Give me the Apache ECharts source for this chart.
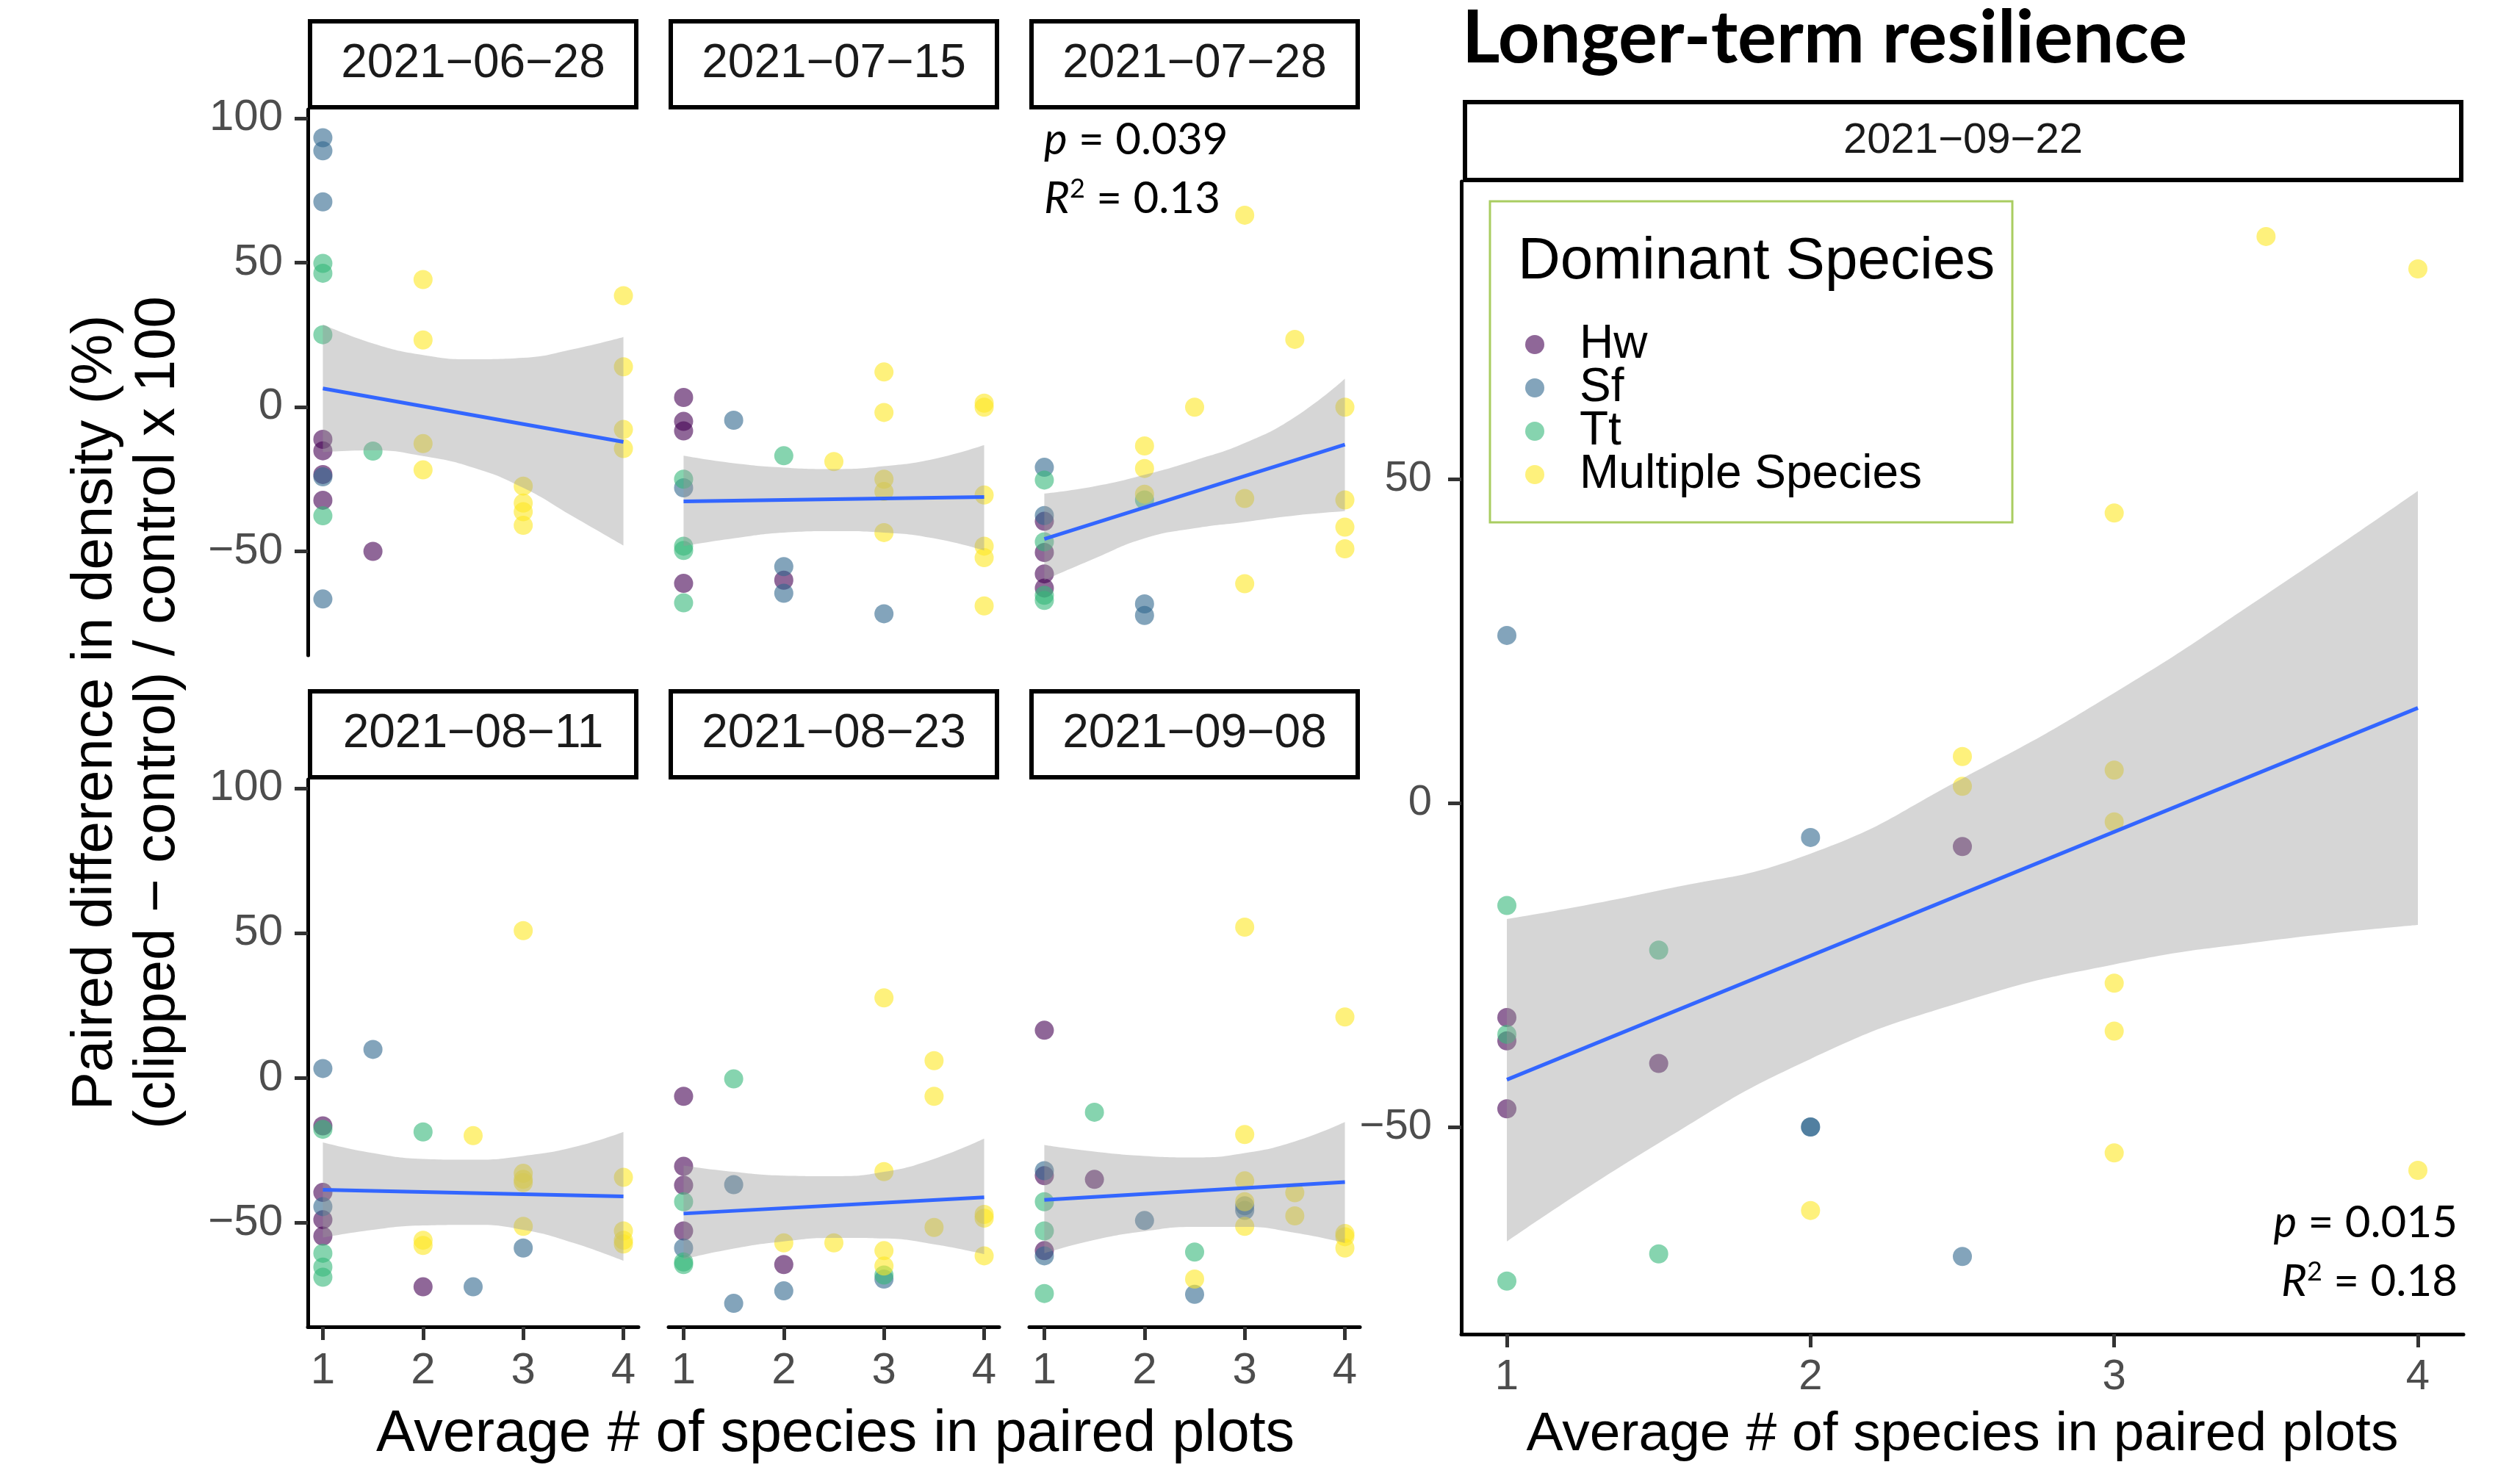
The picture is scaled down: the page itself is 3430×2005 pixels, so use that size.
<!DOCTYPE html>
<html><head><meta charset="utf-8">
<script src="https://cdn.jsdelivr.net/npm/echarts@6/dist/echarts.min.js"></script>
<style>html,body{margin:0;padding:0;background:#fff}#c{width:3430px;height:2005px}</style>
</head><body><div id="c"></div>
<script>
// ---------------- DATA ----------------
const speciesNames = ['Hw', 'Sf', 'Tt', 'Multiple Species'];
const speciesColors = ['#440154', '#31688E', '#35B779', '#FDE725'];
const panelDates = ['2021\u221206\u221228', '2021\u221207\u221215', '2021\u221207\u221228',
                    '2021\u221208\u221211', '2021\u221208\u221223', '2021\u221209\u221208'];
const rightDate = '2021\u221209\u221222';
const xTicks = [1, 2, 3, 4];
const yTicksLeft = [-50, 0, 50, 100];
const yTicksRight = [-50, 0, 50];
const bandX = [1, 1.5, 2, 2.5, 3, 3.5, 4];

// 2021-06-28
const p0628_Hw = [[1,-11.2],[1,-15.2],[1,-23.4],[1,-32.3],[1.5,-50]];
const p0628_Sf = [[1,93.2],[1,88.7],[1,71],[1,-24.2],[1,-66.5]];
const p0628_Tt = [[1,49.7],[1,46.3],[1,25],[1,-37.7],[1.5,-15.3]];
const p0628_Mu = [[2,44.1],[2,23.2],[2,-12.7],[2,-21.8],[3,-27.4],[3,-33.3],[3,-36.3],[3,-41],[4,38.5],[4,13.9],[4,-7.8],[4,-14.4]];
const fit0628 = [[1,6.4],[4,-12.1]];
const lo0628 = [-15.6,-15,-17,-21,-28,-38,-48];
const hi0628 = [28.6,22,18,16.5,17,20,24.2];

// 2021-07-15
const p0715_Hw = [[1,3.3],[1,-5.0],[1,-8.3],[1,-61.1],[2,-60]];
const p0715_Sf = [[1,-28],[1.5,-4.6],[2,-55.3],[2,-64.5],[3,-71.6]];
const p0715_Tt = [[1,-25],[1,-48.2],[1,-49.7],[1,-67.8],[2,-16.9]];
const p0715_Mu = [[2.5,-18.9],[3,12.1],[3,-1.9],[3,-25],[3,-29.3],[3,-43.5],[4,1.3],[4,-0.1],[4,-30.5],[4,-48.2],[4,-52.2],[4,-68.9]];
const fit0715 = [[1,-32.7],[4,-31.2]];
const lo0715 = [-48.2,-45.5,-43.5,-43,-43.5,-45.5,-49.7];
const hi0715 = [-16.9,-19.5,-21,-21.5,-20.5,-18,-13.2];

// 2021-07-28
const p0728_Hw = [[1,-39.6],[1,-50.4],[1,-57.8],[1,-62.7]];
const p0728_Sf = [[1,-20.9],[1,-37.6],[2,-68.2],[2,-72.2]];
const p0728_Tt = [[1,-25.3],[1,-46.7],[1,-65.2],[1,-67],[2,-32.2]];
const p0728_Mu = [[2,-13.5],[2,-21.3],[2,-30.2],[2.5,-0.1],[3,66.4],[3,-31.7],[3,-61.2],[3.5,23.4],[4,-0.1],[4,-32.2],[4,-41.6],[4,-49.1]];
const fit0728 = [[1,-45.7],[4,-13.0]];
const lo0728 = [-60,-52.5,-45.5,-42,-39.8,-37.6,-36.1];
const hi0728 = [-30,-27.5,-23.5,-18.5,-12.5,-3.5,9.8];

// 2021-08-11
const p0811_Hw = [[1,-16.6],[1,-39.6],[1,-49],[1,-54.7],[2,-72.2]];
const p0811_Sf = [[1,3.2],[1,-44.5],[1.5,9.8],[2.5,-72.2],[3,-58.8]];
const p0811_Tt = [[1,-17.8],[1,-60.6],[1,-65.4],[1,-68.9],[2,-18.7]];
const p0811_Mu = [[2,-56.1],[2,-57.9],[2.5,-20],[3,50.8],[3,-33],[3,-35.1],[3,-36.2],[3,-51.3],[4,-34.4],[4,-52.9],[4,-56.1],[4,-57.4]];
const fit0811 = [[1,-38.7],[4,-41]];
const lo0811 = [-55.2,-52.5,-51,-50.8,-52.5,-57,-63.2];
const hi0811 = [-22.3,-26,-28,-28.3,-27,-24,-18.7];

// 2021-08-23
const p0823_Hw = [[1,-6.4],[1,-30.6],[1,-37.1],[1,-52.9],[2,-64.5]];
const p0823_Sf = [[1,-58.8],[1.5,-36.9],[1.5,-77.9],[2,-73.6],[3,-69.5]];
const p0823_Tt = [[1,-42.8],[1,-63.6],[1,-64.5],[1.5,-0.4],[3,-68.1]];
const p0823_Mu = [[2,-57],[2.5,-57],[3,27.6],[3,-32.4],[3,-59.7],[3,-65],[3.5,5.9],[3.5,-6.4],[3.5,-51.7],[4,-47.2],[4,-48.5],[4,-61.5]];
const fit0823 = [[1,-46.9],[4,-41.3]];
const lo0823 = [-62.7,-59,-56.5,-55.3,-55.5,-57.5,-60.9];
const hi0823 = [-30.3,-32.5,-33.8,-34,-32.5,-28,-21];

// 2021-09-08
const p0908_Hw = [[1,16.4],[1,-33.8],[1,-59.7],[1.5,-35.1]];
const p0908_Sf = [[1,-32.1],[1,-61.5],[2,-49.3],[2.5,-74.8],[3,-44.2],[3,-45.8]];
const p0908_Tt = [[1,-42.8],[1,-52.9],[1,-74.5],[1.5,-11.9],[2.5,-60.2]];
const p0908_Mu = [[2.5,-69.5],[3,52],[3,-19.6],[3,-35.6],[3,-42.8],[3,-51.3],[3.5,-39.7],[3.5,-47.7],[4,21],[4,-53.8],[4,-54.9],[4,-58.8]];
const fit0908 = [[1,-42.2],[4,-36]];
const lo0908 = [-60.6,-56,-53,-51.5,-51.5,-53.5,-57];
const hi0908 = [-23.2,-25.5,-27,-27.5,-26,-22,-15.3];

// 2021-09-22 (longer-term)
const p0922_Hw = [[1,-33.1],[1,-36.7],[1,-47.2],[1.5,-40.2],[2.5,-6.7]];
const p0922_Sf = [[1,25.9],[2,-5.3],[2,-50],[2,-50],[2.5,-70]];
const p0922_Tt = [[1,-15.8],[1,-35.7],[1,-73.8],[1.5,-22.7],[1.5,-69.6]];
const p0922_Mu = [[2,-62.9],[2.5,7.2],[2.5,2.6],[3,44.8],[3,5.1],[3,-2.9],[3,-27.8],[3,-35.2],[3,-54],[3.5,87.5],[4,82.5],[4,-56.7]];
const fit0922 = [[1,-42.7],[4,14.7]];
const lo0922 = [-67.7,-52.5,-39.5,-30.7,-24.9,-21.3,-18.8];
const hi0922 = [-17.9,-13.5,-7.8,3.8,17,32.2,48.2];

const statsLeft = ['0.039', '0.13'];
const statsRight = ['0.015', '0.18'];

// ---------------- BUILD ----------------
const panels = [
  {pts:[p0628_Hw,p0628_Sf,p0628_Tt,p0628_Mu], fit:fit0628, lo:lo0628, hi:hi0628},
  {pts:[p0715_Hw,p0715_Sf,p0715_Tt,p0715_Mu], fit:fit0715, lo:lo0715, hi:hi0715},
  {pts:[p0728_Hw,p0728_Sf,p0728_Tt,p0728_Mu], fit:fit0728, lo:lo0728, hi:hi0728},
  {pts:[p0811_Hw,p0811_Sf,p0811_Tt,p0811_Mu], fit:fit0811, lo:lo0811, hi:hi0811},
  {pts:[p0823_Hw,p0823_Sf,p0823_Tt,p0823_Mu], fit:fit0823, lo:lo0823, hi:hi0823},
  {pts:[p0908_Hw,p0908_Sf,p0908_Tt,p0908_Mu], fit:fit0908, lo:lo0908, hi:hi0908},
  {pts:[p0922_Hw,p0922_Sf,p0922_Tt,p0922_Mu], fit:fit0922, lo:lo0922, hi:hi0922}
];

const colLeft = [419, 910, 1401];
const panelW = 450;
const rowTop = [149, 1061];
const rowH = [743, 745];
const RG = {left:1989, top:247, width:1364, height:1569};
const SANS = 'Liberation Sans';
const fmtMinus = v => v < 0 ? '\u2212' + Math.abs(v) : String(v);

const grids = [], xAxes = [], yAxes = [], series = [], graphics = [];

function axisCommon(show, ticks, fs, margin) {
  return {
    axisLine: {show: show, onZero: false, lineStyle: {color: '#000', width: 5}},
    axisTick: {show: show, length: 18, customValues: ticks, lineStyle: {color: '#333', width: 5}},
    axisLabel: {show: show, customValues: ticks, color: '#4d4d4d', fontSize: fs, fontFamily: SANS, margin: margin, formatter: fmtMinus},
    splitLine: {show: false}
  };
}

panels.forEach((p, i) => {
  let g, showX, showY, ymin, ymax, yt, fs;
  if (i < 6) {
    const row = i < 3 ? 0 : 1, col = i % 3;
    g = {left: colLeft[col], top: rowTop[row], width: panelW, height: rowH[row]};
    showX = row === 1; showY = col === 0; ymin = -86; ymax = 103; yt = yTicksLeft; fs = 60;
  } else {
    g = {left: RG.left, top: RG.top, width: RG.width, height: RG.height};
    showX = true; showY = true; ymin = -82; ymax = 96; yt = yTicksRight; fs = 58;
  }
  grids.push(Object.assign({outerBoundsMode: 'none', containLabel: false}, g));
  xAxes.push(Object.assign({type: 'value', gridIndex: i, min: 0.85, max: 4.15}, axisCommon(showX, xTicks, fs, 30)));
  yAxes.push(Object.assign({type: 'value', gridIndex: i, min: ymin, max: ymax}, axisCommon(showY, yt, fs, i < 6 ? 34 : 40)));

  p.pts.forEach((arr, s) => {
    series.push({
      name: speciesNames[s], type: 'scatter', xAxisIndex: i, yAxisIndex: i,
      data: arr, symbolSize: 26, z: 2,
      itemStyle: {color: speciesColors[s], opacity: 0.6}
    });
  });
  // confidence band: lower bound + (upper - lower) stacked on the y dimension
  // (y is put in column 0 so that it is the stacked dimension)
  series.push({
    type: 'line', xAxisIndex: i, yAxisIndex: i, stack: 'band' + i, stackStrategy: 'all',
    data: bandX.map((x, k) => [p.lo[k], x]), encode: {x: 1, y: 0}, smooth: true, symbol: 'none',
    lineStyle: {opacity: 0}, silent: true, z: 3
  });
  series.push({
    type: 'line', xAxisIndex: i, yAxisIndex: i, stack: 'band' + i, stackStrategy: 'all',
    data: bandX.map((x, k) => [p.hi[k] - p.lo[k], x]), encode: {x: 1, y: 0}, smooth: true, symbol: 'none',
    lineStyle: {opacity: 0}, areaStyle: {color: 'rgba(153,153,153,0.4)', opacity: 1}, silent: true, z: 3
  });
  series.push({
    type: 'line', xAxisIndex: i, yAxisIndex: i, data: p.fit, symbol: 'none',
    lineStyle: {color: '#3366FF', width: 5}, silent: true, z: 4
  });

  // strips
  if (i < 6) {
    const row = i < 3 ? 0 : 1, col = i % 3;
    const sy = row === 0 ? 29 : 941;
    graphics.push({type: 'rect', shape: {x: colLeft[col] + 3, y: sy, width: panelW - 6, height: 117},
      style: {fill: '#fff', stroke: '#000', lineWidth: 6}, z: 5});
    graphics.push({type: 'text', x: colLeft[col] + panelW / 2, y: sy + 58.5,
      style: {text: panelDates[i], fontSize: 64, fontFamily: SANS, fill: '#1a1a1a', align: 'center', verticalAlign: 'middle'}, z: 6});
  } else {
    graphics.push({type: 'rect', shape: {x: 1994, y: 139, width: 1356, height: 106},
      style: {fill: '#fff', stroke: '#000', lineWidth: 6}, z: 5});
    graphics.push({type: 'text', x: 1994 + 678, y: 192,
      style: {text: rightDate, fontSize: 58, fontFamily: SANS, fill: '#1a1a1a', align: 'center', verticalAlign: 'middle'}, z: 6});
  }
});

// axis titles
graphics.push({type: 'text', x: 130, y: 970, rotation: Math.PI / 2,
  style: {text: 'Paired difference in density (%)', fontSize: 78, fontFamily: SANS, fill: '#000', align: 'center', verticalAlign: 'middle'}});
graphics.push({type: 'text', x: 215, y: 970, rotation: Math.PI / 2,
  style: {text: '(clipped \u2212 control) / control x 100', fontSize: 78, fontFamily: SANS, fill: '#000', align: 'center', verticalAlign: 'middle'}});
graphics.push({type: 'text', x: 1137, y: 1953,
  style: {text: 'Average # of species in paired plots', fontSize: 79, fontFamily: SANS, fill: '#000', align: 'center', verticalAlign: 'middle'}});
graphics.push({type: 'text', x: 2671, y: 1953,
  style: {text: 'Average # of species in paired plots', fontSize: 75, fontFamily: SANS, fill: '#000', align: 'center', verticalAlign: 'middle'}});

// title
graphics.push({type: 'text', x: 1990, y: 53,
  style: {text: 'Longer-term resilience', fontSize: 99, fontWeight: 'bold', fontFamily: 'Lato', fill: '#000', align: 'left', verticalAlign: 'middle'}});

// stats annotations
const richStat = {
  i: {fontStyle: 'italic', fontSize: 60, fontFamily: 'Lato', lineHeight: 64},
  n: {fontSize: 60, fontFamily: 'Lato', lineHeight: 64},
  s: {fontSize: 36, fontFamily: 'Lato', lineHeight: 36, verticalAlign: 'top'}
};
function stat(x, y1, y2, vals, align) {
  graphics.push({type: 'text', x: x, y: y1, z: 7,
    style: {text: '{i|p}{n| = ' + vals[0] + '}', rich: richStat, fill: '#000', align: align, verticalAlign: 'middle'}});
  graphics.push({type: 'text', x: x, y: y2, z: 7,
    style: {text: '{i|R}{s|2}{n| = ' + vals[1] + '}', rich: richStat, fill: '#000', align: align, verticalAlign: 'middle'}});
}
stat(1421, 191, 271, statsLeft, 'left');
stat(3345, 1665, 1745, statsRight, 'right');

// legend box
graphics.push({type: 'rect', shape: {x: 2028, y: 274, width: 711, height: 437},
  style: {fill: '#fff', stroke: '#a9cd61', lineWidth: 3}, z: 8});
graphics.push({type: 'text', x: 2066, y: 357, z: 9,
  style: {text: 'Dominant Species', fontSize: 80, fontFamily: SANS, fill: '#000', align: 'left', verticalAlign: 'middle'}});

const chart = echarts.init(document.getElementById('c'), null, {renderer: 'canvas'});
chart.setOption({
  animation: false,
  backgroundColor: '#fff',
  grid: grids,
  xAxis: xAxes,
  yAxis: yAxes,
  legend: {
    data: speciesNames, orient: 'vertical', left: 2076, top: 437, padding: 0,
    itemWidth: 26, itemHeight: 26, itemGap: -5, icon: 'circle', selectedMode: false, z: 10,
    textStyle: {fontSize: 64, fontFamily: SANS, color: '#000', lineHeight: 59, padding: [0, 0, 0, 43]}
  },
  graphic: {elements: graphics},
  series: series
});
</script></body></html>
